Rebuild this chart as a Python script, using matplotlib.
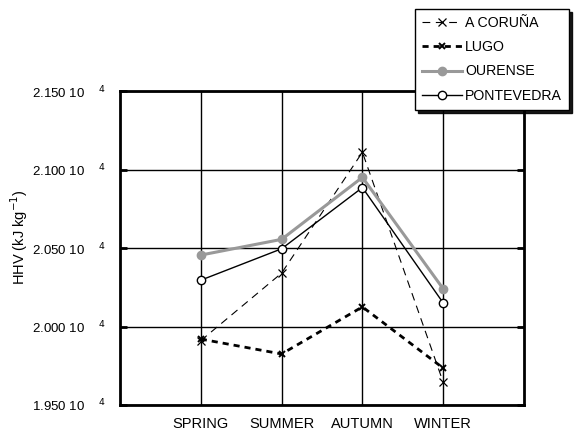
import matplotlib
matplotlib.use("Agg")
import matplotlib.pyplot as plt
from matplotlib.ticker import FixedLocator, FuncFormatter

seasons = ["SPRING", "SUMMER", "AUTUMN", "WINTER"]
coruna = [19910, 20340, 21110, 19645]
lugo = [19920, 19825, 20125, 19735]
ourense = [20455, 20555, 20950, 20240]
pontevedra = [20295, 20495, 20885, 20150]
yticks = [19500, 20000, 20500, 21000, 21500]

plt.rcParams["font.family"] = ["Liberation Sans", "DejaVu Sans"]

fig = plt.figure(figsize=(5.78, 4.30), dpi=100)
ax = fig.add_axes([120 / 578, 25 / 430, 404 / 578, 314 / 430])

x = list(range(1, len(seasons) + 1))

ax.plot(x, coruna, color="black", lw=0.8, dashes=(7, 5), marker="x", ms=6,
        mew=0.9, label="A CORUÑA", zorder=3)
ax.plot(x, lugo, color="black", lw=2.0, dashes=(2.2, 1.8), marker="x", ms=5,
        mew=1.4, label="LUGO", zorder=3)
ax.plot(x, ourense, color="#999999", lw=2.2, marker="o", ms=6, mfc="#999999",
        mec="#999999", label="OURENSE", zorder=3)
ax.plot(x, pontevedra, color="black", lw=1.0, marker="o", ms=6, mfc="white",
        mec="black", mew=1.0, label="PONTEVEDRA", zorder=4)

ax.set_xlim(0, 5)
ax.set_ylim(19500, 21500)
ax.set_xticks(x)
ax.set_xticklabels(seasons, fontsize=10.5)
ax.yaxis.set_major_locator(FixedLocator(yticks))
ax.yaxis.set_major_formatter(FuncFormatter(
    lambda v, p: "%.3f 10$^{\\ \\ \\ \\ \\ 4}$" % (v / 1e4)))
ax.tick_params(axis="y", labelsize=9.5, direction="in", length=5, width=2,
               right=True, pad=10)
ax.tick_params(axis="x", length=0, pad=9)
ax.grid(True, color="black", lw=1.0)
for s in ax.spines.values():
    s.set_linewidth(2.0)
ax.set_ylabel("HHV (kJ kg$^{-1}$)", fontsize=10.5)
ax.yaxis.set_label_coords(-0.222, 0.535)

leg = ax.legend(loc="upper left", bbox_to_anchor=(415 / 578, 1 - 9 / 430),
                bbox_transform=fig.transFigure, fontsize=10.2, frameon=True,
                fancybox=False, shadow={"color": "black", "alpha": 0.9},
                edgecolor="black", handlelength=2.8, handletextpad=0.25,
                labelspacing=0.72, borderpad=0.5, borderaxespad=0)
leg.get_frame().set_linewidth(1.0)
leg.set_zorder(10)

fig.savefig("out.png", dpi=100)
